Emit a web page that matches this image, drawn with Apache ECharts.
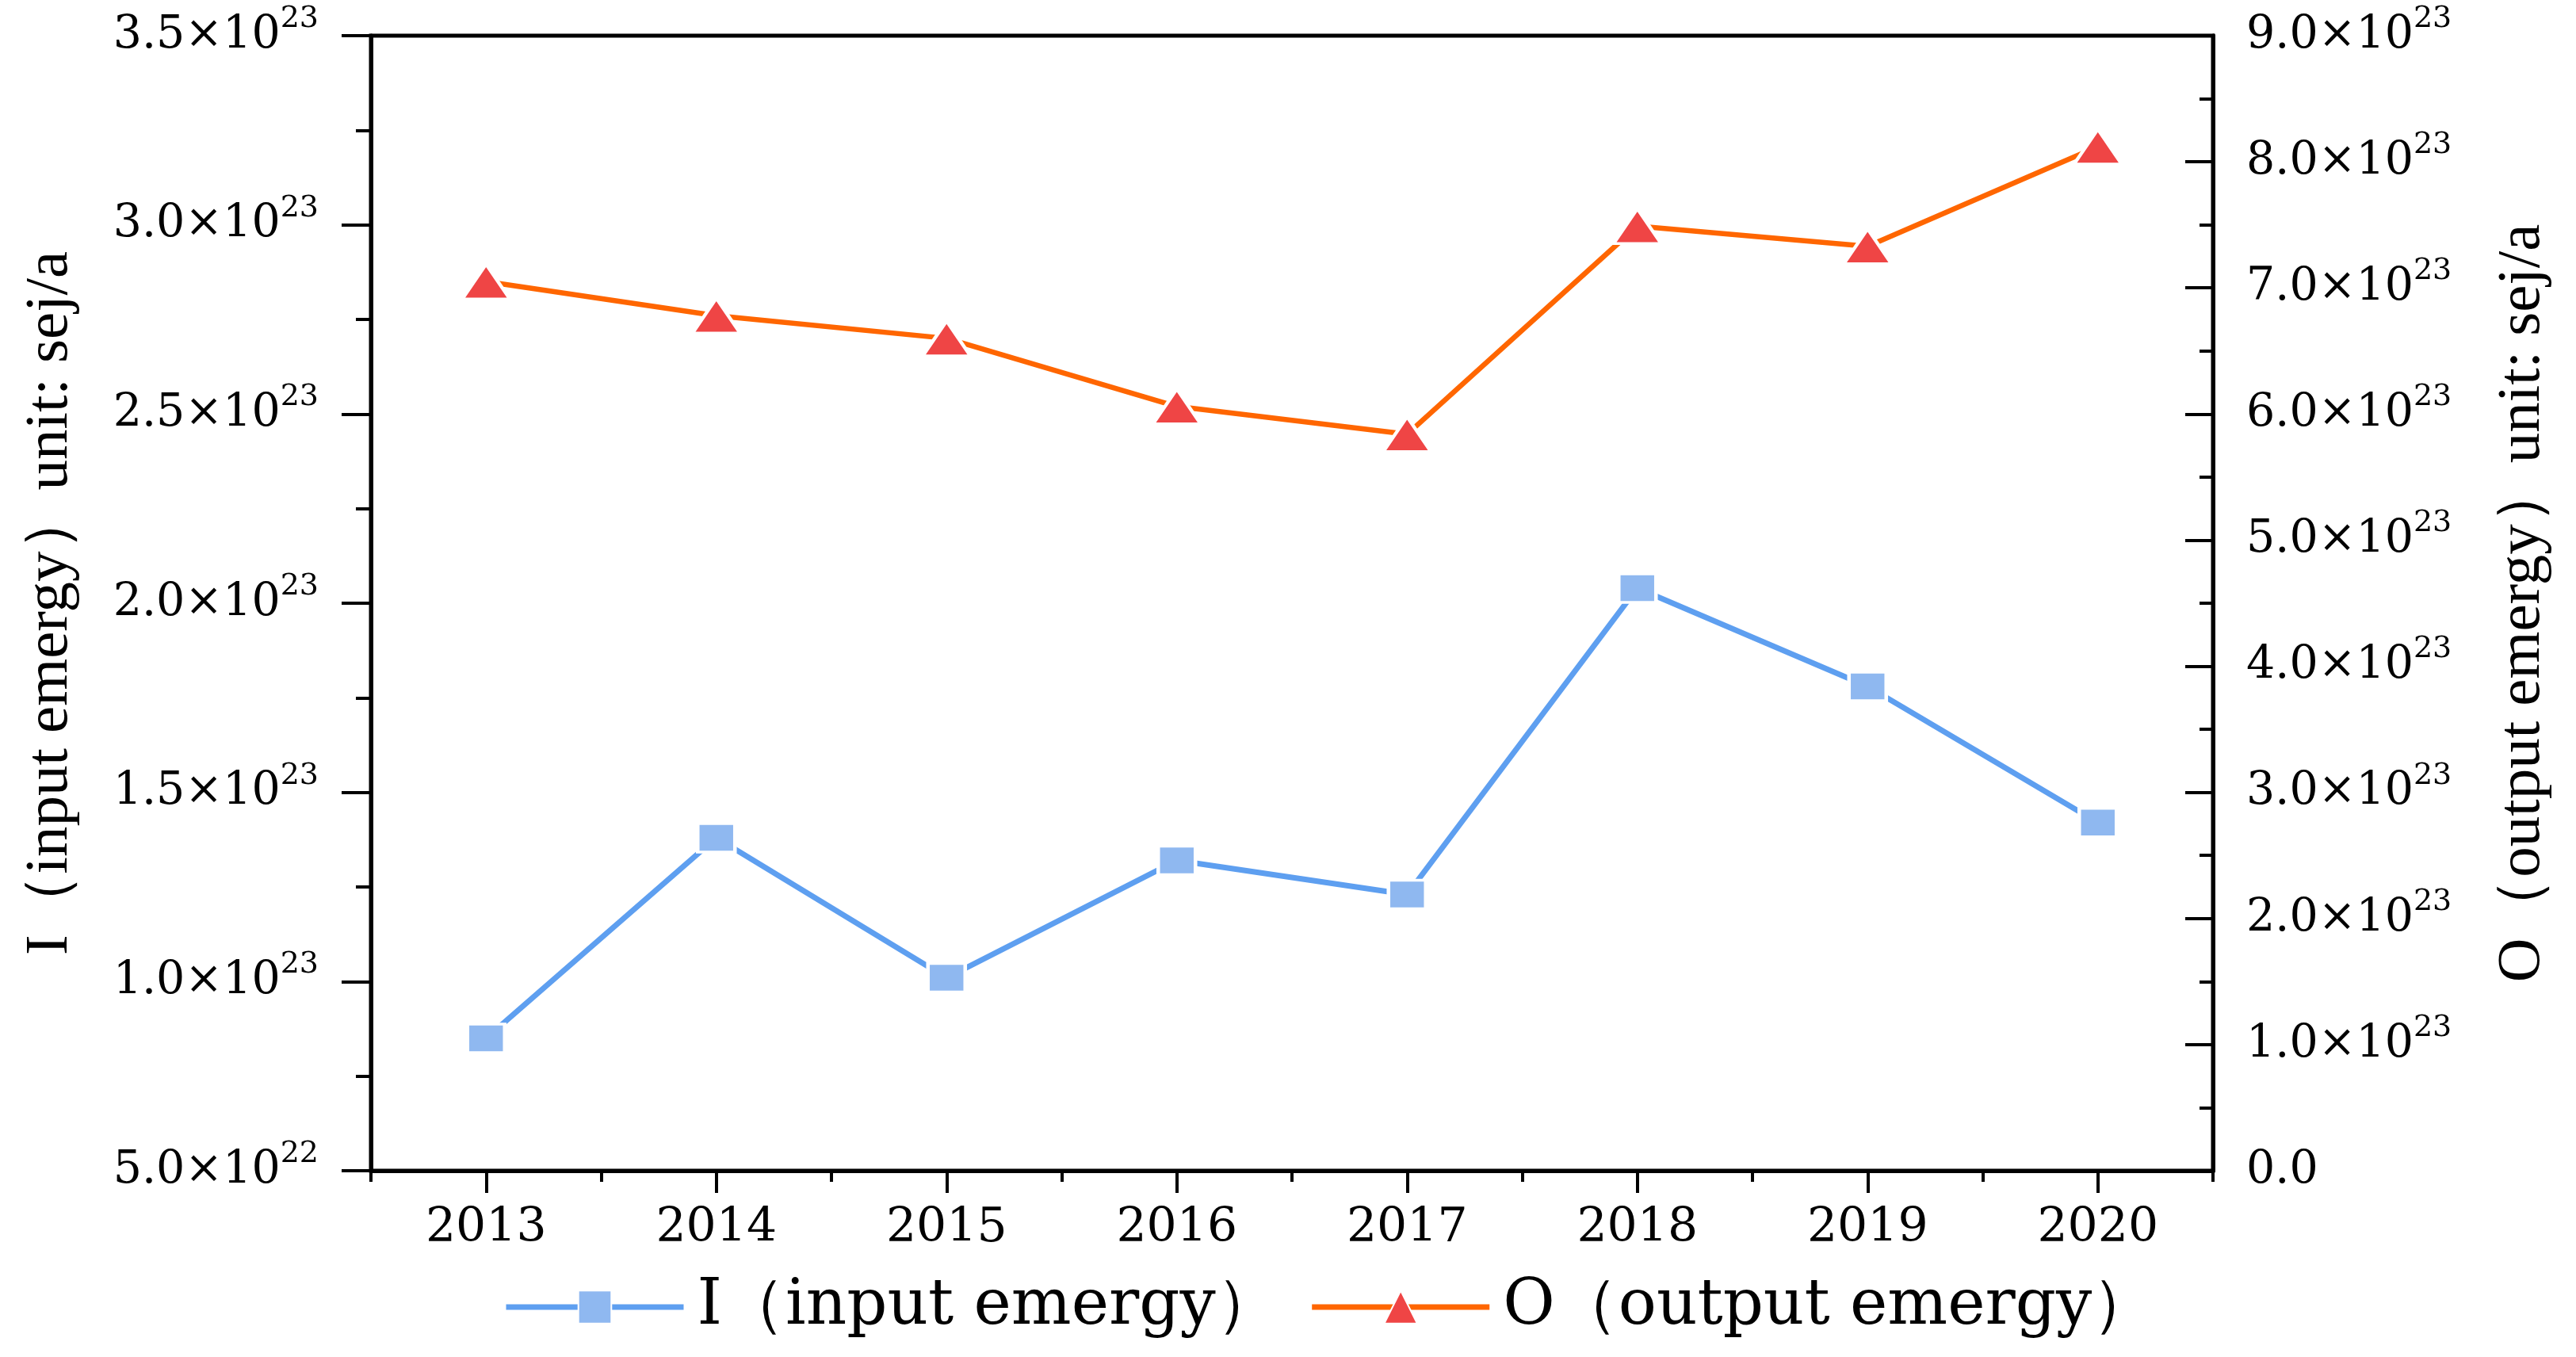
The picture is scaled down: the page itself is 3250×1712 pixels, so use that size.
<!DOCTYPE html>
<html>
<head>
<meta charset="utf-8">
<script src="https://cdn.jsdelivr.net/npm/echarts@6/dist/echarts.min.js"></script>
<style>
html,body{margin:0;padding:0;background:#fff;}
#chart{width:3250px;height:1712px;}
</style>
</head>
<body>
<div id="chart"></div>
<script>
const years = ['2013', '2014', '2015', '2016', '2017', '2018', '2019', '2020'];
const inputEmergy = [0.85e23, 1.38e23, 1.01e23, 1.32e23, 1.23e23, 2.04e23, 1.78e23, 1.42e23];
const outputEmergy = [7.05e23, 6.78e23, 6.60e23, 6.06e23, 5.84e23, 7.49e23, 7.33e23, 8.12e23];
const inputName = 'I（input emergy）';
const outputName = 'O（output emergy）';
const leftAxisTitle = 'I（input emergy）unit: sej/a';
const rightAxisTitle = 'O（output emergy）unit: sej/a';
const leftAxisRange = [0.5e23, 3.5e23];
const leftAxisStep = 0.5e23;
const rightAxisRange = [0, 9e23];
const rightAxisStep = 1e23;

const serifWide = 'DejaVu Serif';
const serif = 'Liberation Serif';

function sci(v) {
  if (Math.abs(v) < 1e-6) return '{b|0.0}';
  let e = Math.floor(Math.log10(Math.abs(v)) + 1e-9);
  let s = (v / Math.pow(10, e)).toFixed(1);
  if (s === '10.0') { e += 1; s = '1.0'; }
  return '{b|' + s + '×10}{s|' + e + '}';
}
const rich = {
  b: { fontFamily: serifWide, fontSize: 57, color: '#000', lineHeight: 80 },
  s: { fontFamily: serifWide, fontSize: 38, color: '#000', lineHeight: 38, verticalAlign: 'top' }
};
const tickLine = { color: '#000', width: 4 };

const chart = echarts.init(document.getElementById('chart'));
chart.setOption({
  animation: false,
  backgroundColor: '#fff',
  grid: { left: 468, right: 458, top: 45, bottom: 235, show: true, borderColor: '#000', borderWidth: 5, backgroundColor: 'transparent' },
  legend: {
    left: 630, top: 1604,
    itemWidth: 224, itemHeight: 52, itemGap: 38,
    lineStyle: { width: 7 },
    textStyle: { fontFamily: serifWide, fontSize: 80, color: '#000', padding: [0, 0, 0, 12] },
    data: [inputName, outputName]
  },
  xAxis: [
    {
      type: 'category', data: years, position: 'bottom', boundaryGap: true,
      axisLine: { show: true, lineStyle: { color: '#000', width: 5 } },
      axisTick: { show: true, alignWithLabel: true, length: 28, lineStyle: tickLine },
      axisLabel: { fontFamily: serifWide, fontSize: 60, color: '#000', margin: 43 },
      splitLine: { show: false }
    },
    {
      type: 'category', data: years, position: 'bottom', boundaryGap: true,
      axisLine: { show: false },
      axisTick: { show: true, length: 14, lineStyle: tickLine },
      axisLabel: { show: false },
      splitLine: { show: false }
    }
  ],
  yAxis: [
    {
      type: 'value', position: 'left',
      min: leftAxisRange[0], max: leftAxisRange[1], interval: leftAxisStep,
      axisLine: { show: true, lineStyle: { color: '#000', width: 5 } },
      axisTick: { show: true, length: 37, lineStyle: tickLine },
      minorTick: { show: true, splitNumber: 2, length: 19, lineStyle: tickLine },
      splitLine: { show: false },
      axisLabel: { margin: 66, formatter: sci, rich: rich },
      name: leftAxisTitle, nameLocation: 'middle', nameRotate: 90, nameGap: 366,
      nameTextStyle: { fontFamily: serif, fontSize: 77, color: '#000' }
    },
    {
      type: 'value', position: 'right',
      min: rightAxisRange[0], max: rightAxisRange[1], interval: rightAxisStep,
      axisLine: { show: true, lineStyle: { color: '#000', width: 5 } },
      axisTick: { show: true, inside: true, length: 35, lineStyle: tickLine },
      minorTick: { show: true, splitNumber: 2, length: 17, lineStyle: tickLine },
      splitLine: { show: false },
      axisLabel: { margin: 42, formatter: sci, rich: rich },
      name: rightAxisTitle, nameLocation: 'middle', nameRotate: 90, nameGap: 352,
      nameTextStyle: { fontFamily: serif, fontSize: 77, color: '#000' }
    }
  ],
  series: [
    {
      name: inputName, type: 'line', xAxisIndex: 0, yAxisIndex: 0, data: inputEmergy,
      symbol: 'rect', symbolSize: [47, 36],
      itemStyle: { color: '#8fb8f0', borderColor: '#fff', borderWidth: 4 },
      lineStyle: { color: '#5e9ff0', width: 7 },
      z: 3
    },
    {
      name: outputName, type: 'line', xAxisIndex: 0, yAxisIndex: 1, data: outputEmergy,
      symbol: 'triangle', symbolSize: [60, 44],
      itemStyle: { color: '#ef4545', borderColor: '#fff', borderWidth: 4 },
      lineStyle: { color: '#ff6600', width: 6.5 },
      z: 3
    }
  ]
});
</script>
</body>
</html>
